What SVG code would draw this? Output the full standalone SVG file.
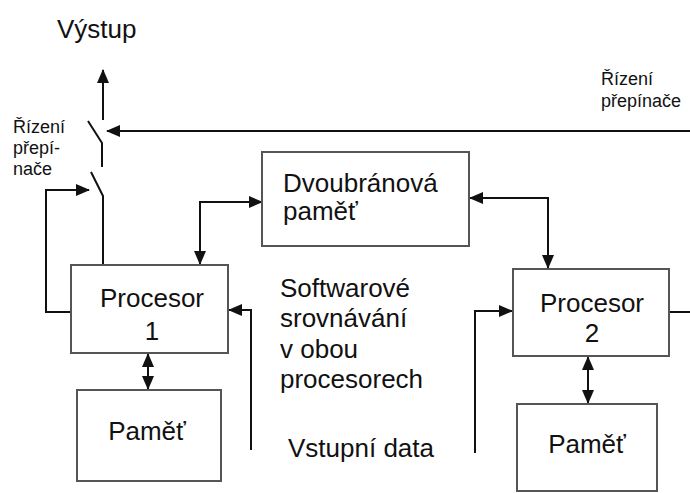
<svg xmlns="http://www.w3.org/2000/svg" width="690" height="493" viewBox="0 0 690 493">
<defs>
<style>
.box{fill:#fff;stroke:#555;stroke-width:2}
.ln{fill:none;stroke:#111;stroke-width:2}
.t{font-family:"Liberation Sans",Arial,sans-serif;font-size:26px;fill:#111}
.s{font-family:"Liberation Sans",Arial,sans-serif;font-size:18px;fill:#111}
.c{text-anchor:middle}
</style>
<marker id="ah" markerUnits="userSpaceOnUse" markerWidth="14" markerHeight="12" refX="13" refY="6" orient="auto-start-reverse">
<path d="M0,0 L14,6 L0,12 z" fill="#111"/>
</marker>
</defs>
<rect width="690" height="493" fill="#fff"/>
<g id="connectors">
<path class="ln" d="M103,120 L103,70" marker-end="url(#ah)"/>
<path class="ln" d="M88,121 L102,143 L102,167"/>
<path class="ln" d="M91,172 L103,196 L103,265"/>
<path class="ln" d="M690,131 L107,131" marker-end="url(#ah)"/>
<path class="ln" d="M71,312 L46,312 L46,190 L89,190" marker-end="url(#ah)"/>
<path class="ln" d="M200,264 L200,202 L262,202" marker-start="url(#ah)" marker-end="url(#ah)"/>
<path class="ln" d="M470,198 L548,198 L548,268" marker-start="url(#ah)" marker-end="url(#ah)"/>
<path class="ln" d="M148,354 L148,389" marker-start="url(#ah)" marker-end="url(#ah)"/>
<path class="ln" d="M588,357 L588,403" marker-start="url(#ah)" marker-end="url(#ah)"/>
<path class="ln" d="M251,450 L251,310 L229,310" marker-end="url(#ah)"/>
<path class="ln" d="M475,453 L475,311 L512,311" marker-end="url(#ah)"/>
<path class="ln" d="M669,312 L690,312"/>
</g>
<g id="vystup"><text class="t" x="57" y="38">Výstup</text></g>
<g id="rizeni-left"><text class="s" x="13" y="133">Řízení</text><text class="s" x="13" y="154">přepí-</text><text class="s" x="13" y="175">nače</text></g>
<g id="rizeni-right"><text class="s" x="601" y="85">Řízení</text><text class="s" x="601" y="107">přepínače</text></g>
<g id="dvoubranova"><rect class="box" x="262" y="152" width="207" height="94"/><text class="t" x="283" y="192">Dvoubránová</text><text class="t" x="283" y="220">paměť</text></g>
<g id="procesor1"><rect class="box" x="71" y="265" width="157" height="88"/><text class="t c" x="152" y="307">Procesor</text><text class="t c" x="152" y="340">1</text></g>
<g id="pamet1"><rect class="box" x="77" y="390" width="144" height="91"/><text class="t c" x="147" y="440">Paměť</text></g>
<g id="procesor2"><rect class="box" x="513" y="269" width="156" height="87"/><text class="t c" x="592" y="312">Procesor</text><text class="t c" x="592" y="342">2</text></g>
<g id="pamet2"><rect class="box" x="517" y="404" width="140" height="87"/><text class="t c" x="587" y="453">Paměť</text></g>
<g id="softwarove"><text class="t" x="280" y="297">Softwarové</text><text class="t" x="280" y="327">srovnávání</text><text class="t" x="280" y="358">v obou</text><text class="t" x="280" y="388">procesorech</text></g>
<g id="vstupni"><text class="t" x="288" y="457">Vstupní data</text></g>
</svg>
